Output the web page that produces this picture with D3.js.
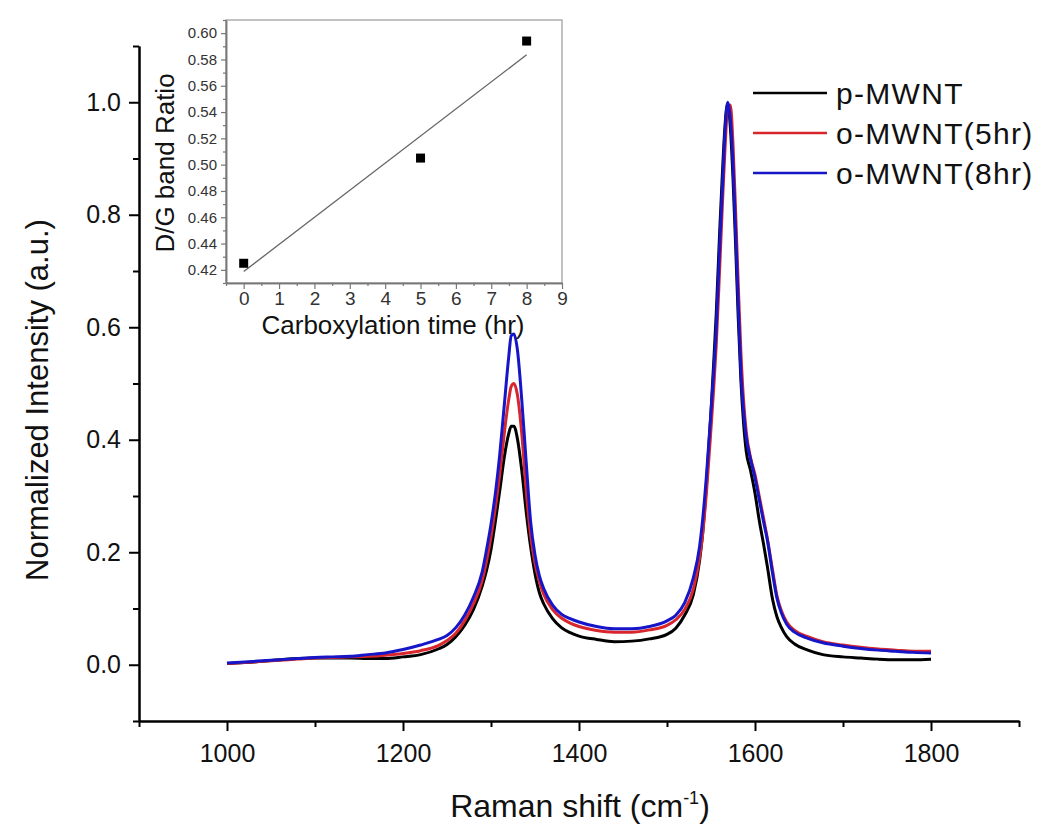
<!DOCTYPE html>
<html>
<head>
<meta charset="utf-8">
<script src="https://cdn.jsdelivr.net/npm/d3@7"></script>
<style>
  html, body { margin: 0; padding: 0; background: #fff; }
  svg { display: block; }
  text { font-family: "Liberation Sans", Arial, sans-serif; }
</style>
</head>
<body>
<svg id="chart" width="1050" height="839"></svg>
<script>
// ---------------- data ----------------
const wavenumber = [1000,1020,1040,1060,1080,1100,1120,1140,1160,1180,1200,1220,1240,1250,1260,
  1270,1280,1290,1295,1300,1305,1310,1315,1320,1323,1326,1330,1335,1340,1345,1350,1355,1360,1370,1380,
  1390,1400,1420,1440,1460,1480,1500,1510,1520,1530,1537,1540,1545,1550,1553,1556,1560,1563,1566,1569,
  1572,1575,1578,1581,1584,1587,1590,1595,1600,1605,1610,1614,1620,1625,1630,1636,1645,1660,1677,1700,
  1720,1740,1760,1780,1800];

const pMWNT = [0.002,0.004,0.006,0.009,0.011, 0.012,0.012,0.012,0.011,0.011,
  0.014,0.018,0.028,0.036,0.050, 0.070,0.098,0.140,0.168,0.205,
  0.255,0.310,0.368,0.410,0.424, 0.424,0.402,0.345,0.272,0.210,
  0.162,0.128,0.108,0.082,0.066, 0.057,0.051,0.045,0.041,0.042,
  0.046,0.054,0.065,0.088,0.125, 0.185,0.225,0.325,0.450,0.535,
  0.625,0.775,0.875,0.960,0.998, 0.955,0.865,0.745,0.615,0.505,
  0.430,0.380,0.345,0.305,0.255, 0.212,0.175,0.116,0.085,0.066,
  0.050,0.037,0.026,0.018,0.014, 0.012,0.010,0.009,0.009,0.010];

const oMWNT5 = [0.002,0.004,0.006,0.008,0.010, 0.012,0.013,0.014,0.015,0.017,
  0.020,0.025,0.034,0.043,0.056, 0.078,0.108,0.150,0.185,0.228,
  0.280,0.340,0.410,0.470,0.495, 0.500,0.480,0.410,0.310,0.230,
  0.180,0.148,0.125,0.098,0.083, 0.074,0.068,0.061,0.058,0.058,
  0.062,0.070,0.080,0.098,0.135, 0.190,0.225,0.310,0.420,0.490,
  0.570,0.710,0.820,0.920,0.990, 0.995,0.925,0.805,0.675,0.555,
  0.470,0.415,0.368,0.338,0.298, 0.258,0.225,0.168,0.122,0.096,
  0.076,0.061,0.050,0.041,0.035, 0.031,0.028,0.026,0.024,0.024];

const oMWNT8 = [0.003,0.005,0.007,0.009,0.011, 0.013,0.014,0.015,0.018,0.021,
  0.027,0.035,0.045,0.052,0.066, 0.088,0.120,0.165,0.205,0.250,
  0.305,0.375,0.460,0.545,0.585, 0.588,0.560,0.470,0.360,0.255,
  0.195,0.158,0.135,0.106,0.090, 0.082,0.076,0.068,0.064,0.064,
  0.068,0.078,0.088,0.110,0.155, 0.210,0.250,0.340,0.450,0.520,
  0.600,0.750,0.850,0.950,1.000, 0.970,0.890,0.770,0.640,0.520,
  0.450,0.405,0.365,0.332,0.292, 0.252,0.222,0.162,0.118,0.092,
  0.072,0.058,0.047,0.039,0.033, 0.029,0.026,0.024,0.022,0.021];

const seriesNames = ["p-MWNT", "o-MWNT(5hr)", "o-MWNT(8hr)"];
const seriesColors = ["#000000", "#d8262c", "#1616c8"];

const xMajorTicks = [1000, 1200, 1400, 1600, 1800];
const xMinorTicks = [900, 1100, 1300, 1500, 1700, 1900];
const yMajorTicks = [0.0, 0.2, 0.4, 0.6, 0.8, 1.0];
const yMinorTicks = [-0.1, 0.1, 0.3, 0.5, 0.7, 0.9, 1.1];

// inset data
const insetTime = [0, 5, 8];
const insetRatio = [0.425, 0.505, 0.594];
const insetXTicks = [0,1,2,3,4,5,6,7,8,9];
const insetXMinor = [-0.5,0.5,1.5,2.5,3.5,4.5,5.5,6.5,7.5,8.5];
const insetYTicks = [0.42,0.44,0.46,0.48,0.50,0.52,0.54,0.56,0.58,0.60];
const insetYMinor = [0.41,0.43,0.45,0.47,0.49,0.51,0.53,0.55,0.57,0.59,0.61];

// ---------------- main chart ----------------
const svg = d3.select("#chart");
const x = d3.scaleLinear().domain([900, 1900]).range([139, 1019]);
const y = d3.scaleLinear().domain([-0.1, 1.1]).range([721, 46]);

const allSeries = [pMWNT, oMWNT5, oMWNT8];
const line = d3.line().curve(d3.curveMonotoneX);

allSeries.forEach((vals, i) => {
  svg.append("path")
    .attr("d", line(wavenumber.map((w, j) => [x(w), y(vals[j])])))
    .attr("fill", "none")
    .attr("stroke", seriesColors[i])
    .attr("stroke-width", 3)
    .attr("stroke-linejoin", "round");
});

// x axis
const gx = svg.append("g").attr("transform", `translate(0,${y(-0.1)})`);
gx.call(d3.axisBottom(x).tickValues(xMajorTicks).tickSize(10).tickSizeOuter(0).tickPadding(13).tickFormat(d3.format("d")));
gx.append("g").call(d3.axisBottom(x).tickValues(xMinorTicks).tickSize(6).tickSizeOuter(0).tickFormat(""));
gx.selectAll("path.domain").attr("stroke", "#000").attr("stroke-width", 2);
gx.selectAll("line").attr("stroke", "#000").attr("stroke-width", 2);
gx.selectAll("text").attr("font-size", 25).attr("fill", "#111")
  .attr("font-family", "'Liberation Sans Narrow', 'Liberation Sans', Arial, sans-serif");

// y axis
const gy = svg.append("g").attr("transform", `translate(${x(900)},0)`);
gy.call(d3.axisLeft(y).tickValues(yMajorTicks).tickSize(10).tickSizeOuter(0).tickPadding(8).tickFormat(d3.format(".1f")));
gy.append("g").call(d3.axisLeft(y).tickValues(yMinorTicks).tickSize(6).tickSizeOuter(0).tickFormat(""));
gy.selectAll("path.domain").attr("stroke", "#000").attr("stroke-width", 2);
gy.selectAll("line").attr("stroke", "#000").attr("stroke-width", 2);
gy.selectAll("text").attr("font-size", 25).attr("fill", "#111");

// axis titles
const xt = svg.append("text")
  .attr("x", 580).attr("y", 817)
  .attr("text-anchor", "middle")
  .attr("font-size", 32).attr("fill", "#111");
xt.append("tspan").text("Raman shift (cm");
xt.append("tspan").attr("font-size", 18).attr("dy", -13).text("-1");
xt.append("tspan").attr("dy", 13).text(")");

svg.append("text")
  .attr("transform", `translate(48,400) rotate(-90)`)
  .attr("text-anchor", "middle")
  .attr("font-size", 31).attr("fill", "#111")
  .text("Normalized Intensity (a.u.)");

// legend
const legend = svg.append("g");
seriesNames.forEach((name, i) => {
  const ly = 93 + i * 40;
  legend.append("line")
    .attr("x1", 753).attr("x2", 827).attr("y1", ly).attr("y2", ly)
    .attr("stroke", seriesColors[i]).attr("stroke-width", 2.6);
  legend.append("text")
    .attr("x", 836).attr("y", ly + 11)
    .attr("font-size", 30).attr("letter-spacing", 1.3).attr("fill", "#111")
    .text(name);
});

// ---------------- inset ----------------
const ix = d3.scaleLinear().domain([-0.5, 9]).range([226, 562]);
const iy = d3.scaleLinear().domain([0.41, 0.61]).range([283, 20]);
const inset = svg.append("g");
const axisGrey = "#777";

inset.append("rect")
  .attr("x", ix(-0.5)).attr("y", iy(0.61))
  .attr("width", ix(9) - ix(-0.5)).attr("height", iy(0.41) - iy(0.61))
  .attr("fill", "none").attr("stroke", "#999").attr("stroke-width", 1.2);

const igx = inset.append("g").attr("transform", `translate(0,${iy(0.41)})`);
igx.call(d3.axisBottom(ix).tickValues(insetXTicks).tickSize(6).tickSizeOuter(0).tickPadding(3).tickFormat(d3.format("d")));
igx.append("g").call(d3.axisBottom(ix).tickValues(insetXMinor).tickSize(3).tickSizeOuter(0).tickFormat(""));
igx.selectAll("path.domain").attr("stroke", axisGrey).attr("stroke-width", 1.5);
igx.selectAll("line").attr("stroke", axisGrey).attr("stroke-width", 1.2);
igx.selectAll("text").attr("font-size", 19).attr("fill", "#333");

const igy = inset.append("g").attr("transform", `translate(${ix(-0.5)},0)`);
igy.call(d3.axisLeft(iy).tickValues(insetYTicks).tickSize(5).tickSizeOuter(0).tickPadding(4).tickFormat(d3.format(".2f")));
igy.append("g").call(d3.axisLeft(iy).tickValues(insetYMinor).tickSize(3).tickSizeOuter(0).tickFormat(""));
igy.selectAll("path.domain").attr("stroke", axisGrey).attr("stroke-width", 1.5);
igy.selectAll("line").attr("stroke", axisGrey).attr("stroke-width", 1.2);
igy.selectAll("text").attr("font-size", 15).attr("fill", "#333");

// linear fit from the inset points
const n = insetTime.length;
const mx = d3.mean(insetTime), my = d3.mean(insetRatio);
let sxy = 0, sxx = 0;
for (let k = 0; k < n; k++) { sxy += (insetTime[k]-mx)*(insetRatio[k]-my); sxx += (insetTime[k]-mx)**2; }
const slope = sxy / sxx, icpt = my - slope * mx;
inset.append("line")
  .attr("x1", ix(insetTime[0])).attr("y1", iy(icpt + slope*insetTime[0]))
  .attr("x2", ix(insetTime[n-1])).attr("y2", iy(icpt + slope*insetTime[n-1]))
  .attr("stroke", "#666").attr("stroke-width", 1.3);

inset.selectAll("rect.pt").data(insetTime).enter().append("rect")
  .attr("class", "pt")
  .attr("x", (d) => ix(d) - 4.5).attr("y", (d, i) => iy(insetRatio[i]) - 4.5)
  .attr("width", 9).attr("height", 9).attr("fill", "#000");

inset.append("text")
  .attr("x", 393).attr("y", 334)
  .attr("text-anchor", "middle").attr("font-size", 26).attr("fill", "#111")
  .text("Carboxylation time (hr)");
inset.append("text")
  .attr("transform", `translate(174,163) rotate(-90)`)
  .attr("text-anchor", "middle").attr("font-size", 26).attr("fill", "#111")
  .text("D/G band Ratio");
</script>
</body>
</html>
